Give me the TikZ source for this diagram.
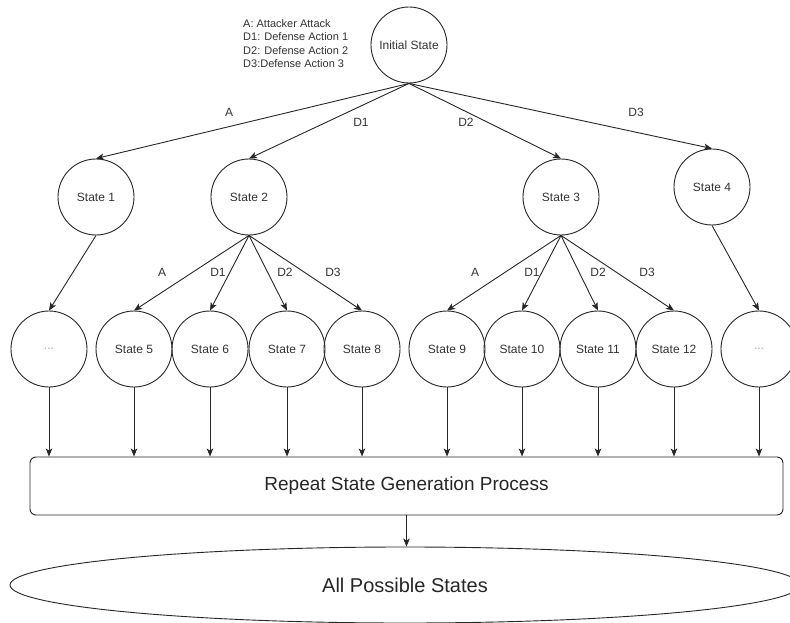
\documentclass[tikz,border=0pt]{standalone}
\usepackage{fontspec}
\setmainfont{Liberation Sans}
\usetikzlibrary{arrows.meta,shapes.geometric}
\begin{document}
\begin{tikzpicture}[x=1pt,y=-1pt,
  st/.style={circle,draw=black!85,line width=0.9pt,minimum size=76pt,inner sep=0pt,
    font=\fontsize{12}{14}\selectfont,text=black!80},
  dots/.style={st,text=black!35},
  arr/.style={draw=black!85,line width=0.9pt,-{Stealth[length=8pt,width=6.5pt,inset=2pt]}},
  lbl/.style={font=\fontsize{12}{14}\selectfont,text=black!80,inner sep=0pt}]
\useasboundingbox (0,0) rectangle (790,623);

% legend
\node[anchor=north west,align=left,inner sep=0pt,text=black!80,
  font=\fontsize{11}{13.5}\selectfont] (legend) at (243,19)
  {A: Attacker Attack\\D1: Defense Action 1\\D2: Defense Action 2\\D3:Defense Action 3};

% states
\node[st] (init) at (409,45) {Initial State};
\node[st] (s1) at (96,197) {State 1};
\node[st] (s2) at (249,197) {State 2};
\node[st] (s3) at (561,197) {State 3};
\node[st] (s4) at (712,187) {State 4};

\node[dots] (dl) at (49,349) {...};
\node[st] (s5) at (134,349) {State 5};
\node[st] (s6) at (210,349) {State 6};
\node[st] (s7) at (287,349) {State 7};
\node[st] (s8) at (362,349) {State 8};
\node[st] (s9) at (447,349) {State 9};
\node[st] (s10) at (522,349) {State 10};
\node[st] (s11) at (598,349) {State 11};
\node[st] (s12) at (674,349) {State 12};
\node[dots] (dr) at (759,349) {...};

% process box and ellipse
\node[draw=black!85,line width=0.9pt,rounded corners=6pt,minimum width=753pt,minimum height=58pt,
  inner sep=0pt,text=black!85,font=\fontsize{19}{22}\selectfont] (box) at (406.5,486)
  {Repeat State Generation Process};
\node[ellipse,draw=black!85,line width=0.9pt,minimum width=790pt,minimum height=76pt,
  inner sep=0pt,text=black!85,font=\fontsize{20}{23}\selectfont] (ell) at (405,585)
  {All Possible States};

% first level
\draw[arr] (init.south) -- (s1.north);
\draw[arr] (init.south) -- (s2.north);
\draw[arr] (init.south) -- (s3.north);
\draw[arr] (init.south) -- (s4.north);
\node[lbl] (la) at (229,112) {A};
\node[lbl] (ld1) at (361,122) {D1};
\node[lbl] (ld2) at (466,122) {D2};
\node[lbl] (ld3) at (636,112) {D3};

% second level
\draw[arr] (s1.south) -- (dl.north);
\draw[arr] (s2.south) -- (s5.north);
\draw[arr] (s2.south) -- (s6.north);
\draw[arr] (s2.south) -- (s7.north);
\draw[arr] (s2.south) -- (s8.north);
\draw[arr] (s3.south) -- (s9.north);
\draw[arr] (s3.south) -- (s10.north);
\draw[arr] (s3.south) -- (s11.north);
\draw[arr] (s3.south) -- (s12.north);
\draw[arr] (s4.south) -- (dr.north);

\node[lbl] (l2a) at (162,272) {A};
\node[lbl] (l2d1) at (218,272) {D1};
\node[lbl] (l2d2) at (285,272) {D2};
\node[lbl] (l2d3) at (333,272) {D3};
\node[lbl] (l3a) at (475,272) {A};
\node[lbl] (l3d1) at (532,272) {D1};
\node[lbl] (l3d2) at (598,272) {D2};
\node[lbl] (l3d3) at (647,272) {D3};

% into box
\foreach \n in {dl,s5,s6,s7,s8,s9,s10,s11,s12,dr}
  \draw[arr] (\n.south) -- (\n.south |- box.north);

\draw[arr] (box.south) -- (box.south |- ell.north);
\end{tikzpicture}
\end{document}
